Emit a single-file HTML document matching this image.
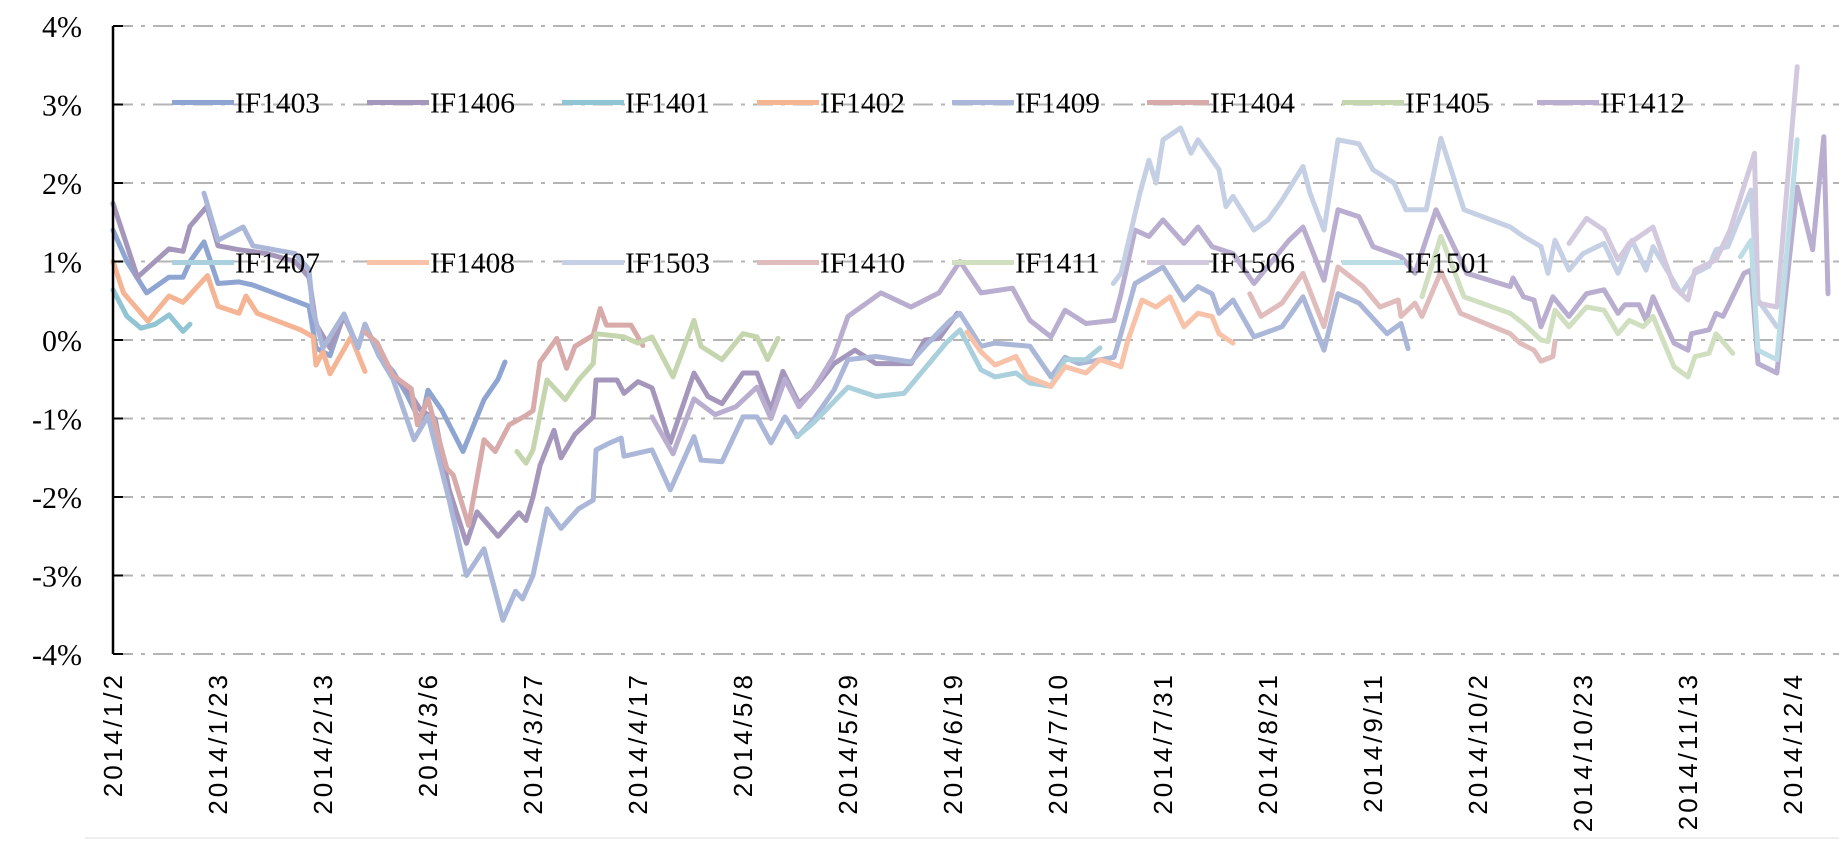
<!DOCTYPE html>
<html><head><meta charset="utf-8"><style>
html,body{margin:0;padding:0;background:#fff;}
svg{display:block;}
</style></head><body>
<svg id="chart" width="1839" height="846" viewBox="0 0 1839 846" xmlns="http://www.w3.org/2000/svg">
<g id="grid"></g>
<g id="series"></g>
<g id="axes"></g>
<g id="legend"></g>
</svg>
<script>
const yTicks = [4,3,2,1,0,-1,-2,-3,-4];
const xTickDays = [0,15,30,45,60,75,90,105,120,135,150,165,180,195,210,225,240];
const xTickLabels = ["2014/1/2","2014/1/23","2014/2/13","2014/3/6","2014/3/27","2014/4/17","2014/5/8","2014/5/29","2014/6/19","2014/7/10","2014/7/31","2014/8/21","2014/9/11","2014/10/2","2014/10/23","2014/11/13","2014/12/4"];
const seriesNames = ["IF1403","IF1406","IF1401","IF1402","IF1409","IF1404","IF1405","IF1412","IF1407","IF1408","IF1503","IF1410","IF1411","IF1506","IF1501"];
const seriesColors = ["#8fa5d1","#a597bb","#92c5d3","#f5b493","#aab7d9","#d8aaaa","#c5d6ae","#b9aed0","#a9d0dc","#f7c2a8","#c6d0e4","#e0bcbc","#d0dfc0","#d3c9df","#bddde6"];

const d1403 = [0,2,4.8,8,10,11,13,15,18,20,26,28,29,31,33,35,36,38,40,42,44,45,47,50,53,55,56];
const v1403 = [1.4,1.0,0.6,0.8,0.8,1.0,1.25,0.72,0.74,0.7,0.5,0.43,-0.1,-0.2,0.33,-0.1,0.2,-0.2,-0.4,-0.7,-1.06,-0.64,-0.9,-1.42,-0.76,-0.5,-0.28];
const d1406 = [0,3.5,8,10,11,13.4,15,18,22,26,28,29,31,33,35,36,38,40,42,44,46,48,50.5,52,55,58,59,60,61,63,64,66,68.6,69,72,73,75,77,79.6,83,85,87,90,92,94,95.7,98,100,103,106,109,114,116,118,120.6];
const v1406 = [1.74,0.8,1.16,1.13,1.45,1.7,1.2,1.15,1.1,1.0,0.8,0.2,-0.1,0.3,-0.1,0.2,-0.2,-0.45,-0.62,-0.9,-1.0,-1.9,-2.59,-2.19,-2.5,-2.2,-2.3,-2.0,-1.6,-1.15,-1.5,-1.2,-0.98,-0.51,-0.51,-0.68,-0.53,-0.61,-1.31,-0.42,-0.72,-0.81,-0.42,-0.42,-0.89,-0.40,-0.81,-0.64,-0.3,-0.13,-0.3,-0.3,0.0,0.02,0.34];
const d1401 = [0,2,4,6,8,10,11];
const v1401 = [0.64,0.3,0.15,0.2,0.32,0.11,0.2];
const d1402 = [0,1.5,5,8,10,13.5,15,18,19,20.6,26.8,28.6,29,30,31,34,36];
const v1402 = [1.0,0.6,0.24,0.56,0.48,0.82,0.43,0.34,0.56,0.34,0.13,0.04,-0.32,-0.15,-0.43,0.04,-0.4];
const d1409 = [13,15,18.6,20,26,28,28.5,30,33,35,36,38,40,43,45,48,50.5,53,55.7,57.5,58.5,60,62,64,66.5,68.6,69,71,72.6,73,77,79.6,83,84,87,90,92,94,96,97.8,100,103,105,109,114,116,119.6,121,124,126,131,134,136,138,143,144,146,150,153,155,157,158,160,163,167,170,173,175,178,182,184,185];
const v1409 = [1.87,1.27,1.44,1.2,1.1,0.9,0.4,-0.1,0.33,-0.1,0.2,-0.2,-0.5,-1.27,-0.97,-2.03,-3.0,-2.66,-3.57,-3.2,-3.3,-3.0,-2.15,-2.4,-2.15,-2.04,-1.40,-1.31,-1.25,-1.48,-1.40,-1.91,-1.23,-1.53,-1.55,-0.98,-0.98,-1.31,-0.98,-1.23,-1.02,-0.64,-0.25,-0.21,-0.28,-0.08,0.25,0.34,-0.08,-0.04,-0.08,-0.47,-0.22,-0.30,-0.22,0.08,0.72,0.93,0.51,0.68,0.59,0.34,0.51,0.04,0.17,0.55,-0.13,0.59,0.47,0.08,0.21,-0.11];
const d1404 = [36,37.7,40,42.6,43.5,45,47.7,48.6,50.8,53,54.6,56.6,59,60,61,63.4,64.8,66,68.6,69.6,70.5,74,75.7];
const v1404 = [0.1,-0.03,-0.45,-0.62,-1.08,-0.75,-1.64,-1.72,-2.36,-1.27,-1.42,-1.08,-0.96,-0.9,-0.28,0.02,-0.36,-0.08,0.06,0.40,0.19,0.19,-0.07];
const d1405 = [57.7,59,60,62,64.6,66.5,68.6,69,73,75,77,80,83,84,87,90,92,93.5,95];
const v1405 = [-1.42,-1.57,-1.40,-0.51,-0.76,-0.51,-0.30,0.08,0.04,-0.04,0.04,-0.47,0.25,-0.08,-0.25,0.08,0.04,-0.25,0.02];
const d1412 = [77,80,83,86,89,92,94,96,98,100,103,105,109.7,114,118,121,124,128.5,131,134,136,139,143,144,146,148,150,153,155,157,160,163,168,170,173,175,178,180,184,186,189,193.4,199.6,200,201.5,203,204,205.7,208,210.5,213,215,216,218,219,220,223,225,225.5,228,229,230,233,234,235,237.7,240.6,242.8,244.4,245];
const v1412 = [-0.98,-1.45,-0.75,-0.95,-0.85,-0.6,-1.0,-0.5,-0.85,-0.64,-0.2,0.3,0.6,0.42,0.6,1.0,0.6,0.66,0.25,0.04,0.38,0.21,0.25,0.59,1.40,1.32,1.53,1.23,1.44,1.19,1.10,0.72,1.27,1.44,0.76,1.66,1.57,1.19,1.06,0.85,1.66,0.85,0.68,0.79,0.55,0.51,0.17,0.55,0.30,0.59,0.64,0.34,0.45,0.45,0.25,0.55,-0.04,-0.13,0.08,0.13,0.34,0.30,0.85,0.89,-0.3,-0.42,1.95,1.15,2.59,0.59];
const d1407 = [97.7,100,105,109,113,119,121,124,126,129,131,134,136,139,141];
const v1407 = [-1.23,-1.06,-0.6,-0.72,-0.68,-0.04,0.13,-0.38,-0.47,-0.42,-0.55,-0.59,-0.25,-0.25,-0.1];
const d1408 = [122,124,126,129,130.6,133,134,136,139,141,144,145,147,149,151,153,155,157,158,160];
const v1408 = [0.1,-0.15,-0.32,-0.21,-0.47,-0.55,-0.59,-0.34,-0.42,-0.25,-0.34,0.0,0.51,0.42,0.55,0.17,0.34,0.30,0.08,-0.04];
const d1503 = [142.9,144,146.7,148,149,150,152.5,154,155,158,159,160,163,165,167,170,171,173,175,178,180,183,184.7,187.6,189.7,193,199.6,201.5,204,205,206,208,210,213,215,217,219,220,224,226,228,229,230.7,234,235,237.7];
const v1503 = [0.72,0.85,1.87,2.29,2.0,2.55,2.70,2.38,2.55,2.17,1.7,1.83,1.40,1.53,1.78,2.21,1.87,1.40,2.55,2.5,2.17,2.0,1.66,1.66,2.57,1.66,1.44,1.32,1.19,0.85,1.27,0.89,1.1,1.23,0.85,1.27,0.89,1.19,0.59,0.85,0.94,1.15,1.19,1.91,0.51,0.17];
const d1410 = [162.4,164,167,170,173,175,178.6,181,183.6,184,186,187,189.7,192.5,199.6,201,203,204,205.7,206];
const v1410 = [0.59,0.30,0.47,0.85,0.17,0.93,0.68,0.42,0.51,0.30,0.47,0.30,0.87,0.34,0.08,-0.04,-0.13,-0.27,-0.21,-0.02];
const d1411 = [187,189.7,193,199.6,201.5,204,205,206,208,210.5,213,215,216.6,218.6,220,223,225,226,228,229,231.4];
const v1411 = [0.55,1.32,0.55,0.34,0.21,0.0,-0.02,0.38,0.17,0.42,0.38,0.08,0.25,0.17,0.30,-0.34,-0.47,-0.21,-0.17,0.08,-0.17];
const d1506 = [208,210.5,213,215,216.6,220,223,225,226,229,231,234.5,235,237.7,240.6];
const v1506 = [1.23,1.55,1.40,1.02,1.23,1.44,0.68,0.51,0.89,1.02,1.40,2.38,0.47,0.42,3.48];
const d1501 = [232.5,234,235,237.7,240.6];
const v1501 = [1.06,1.27,-0.13,-0.25,2.55];

const seriesDays = [d1403,d1406,d1401,d1402,d1409,d1404,d1405,d1412,d1407,d1408,d1503,d1410,d1411,d1506,d1501];
const seriesVals = [v1403,v1406,v1401,v1402,v1409,v1404,v1405,v1412,v1407,v1408,v1503,v1410,v1411,v1506,v1501];

const NS = "http://www.w3.org/2000/svg";
const X0 = 113, PX_PER_DAY = 7, Y0 = 340, PX_PER_PCT = 78.5, XMAX = 1839;
function xScale(d){ return X0 + PX_PER_DAY * d; }
function yScale(v){ return Y0 - PX_PER_PCT * v; }
function mk(tag, attrs, parent){ const e = document.createElementNS(NS, tag); for (const k in attrs) e.setAttribute(k, attrs[k]); parent.appendChild(e); return e; }

const grid = document.getElementById('grid');
const axes = document.getElementById('axes');
const seriesG = document.getElementById('series');
const legend = document.getElementById('legend');

yTicks.forEach(function(t){
  const y = yScale(t);
  const gl = mk('line', {x1: X0, x2: XMAX, y1: y, y2: y, stroke: '#b4b4b4', 'stroke-width': 2, 'stroke-dasharray': '20 8 4 8'}, grid);
  
  
  const tk = mk('line', {x1: X0, x2: X0 + 10, y1: y, y2: y, stroke: '#000', 'stroke-width': 2}, axes);
  
  
  const lb = mk('text', {x: 82, y: y + 11, 'text-anchor': 'end', 'font-family': '"Liberation Serif", serif', 'font-size': 31, fill: '#000', 'textLength': t < 0 ? 50 : 40, 'lengthAdjust': 'spacingAndGlyphs'}, axes);
  lb.textContent = t + '%';
  
  
});

const yAxis = mk('line', {x1: X0, x2: X0, y1: yScale(4), y2: yScale(-4), stroke: '#000', 'stroke-width': 2.5}, axes);



xTickDays.forEach(function(d, i){
  const x = xScale(d);
  const lb = mk('text', {x: 0, y: 0, 'text-anchor': 'end', 'font-family': '"Liberation Sans", sans-serif', 'font-size': 26, fill: '#000', 'letter-spacing': 3, transform: 'translate(' + (x + 9) + ',672) rotate(-90)'}, axes);
  lb.textContent = xTickLabels[i];
  
  
});

const bl = mk('line', {x1: 85, x2: 1839, y1: 838, y2: 838, stroke: '#dcdcdc', 'stroke-width': 1}, axes);



seriesNames.forEach(function(name, i){
  const ds = seriesDays[i], vs = seriesVals[i];
  let pts = [];
  for (let k = 0; k < ds.length; k++) pts.push(xScale(ds[k]).toFixed(1) + ',' + yScale(vs[k]).toFixed(1));
  const pl = mk('polyline', {points: pts.join(' '), fill: 'none', stroke: seriesColors[i], 'stroke-width': 5, 'stroke-linejoin': 'round', 'stroke-linecap': 'round'}, seriesG);
  
  
});

seriesNames.forEach(function(name, i){
  const row = i < 8 ? 0 : 1;
  const col = i < 8 ? i : i - 8;
  const x = 172 + 195 * col;
  const y = row === 0 ? yScale(3) - 2 : yScale(1) + 1;
  const g = mk('g', {}, legend);
  
  
  mk('line', {x1: x, x2: x + 62, y1: y, y2: y, stroke: seriesColors[i], 'stroke-width': 5}, g);
  const t = mk('text', {x: x + 63, y: y + 10, 'font-family': '"Liberation Serif", serif', 'font-size': 28, fill: '#000', textLength: 85, lengthAdjust: 'spacingAndGlyphs'}, g);
  t.textContent = name;
});
</script>
</body></html>
